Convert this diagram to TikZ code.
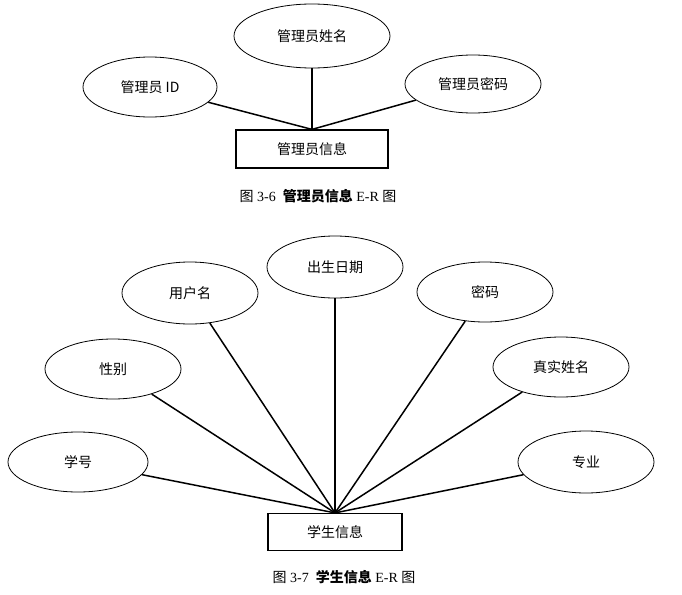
\documentclass[tikz,border=0pt]{standalone}
\usepackage{fontspec}
\setmainfont{Liberation Serif}
\newfontfamily\cjk{Noto Sans CJK SC}
\usetikzlibrary{shapes.geometric}
\begin{document}
\begin{tikzpicture}[x=1pt,y=-1pt,
  attr/.style={ellipse,draw,line width=0.8pt,minimum width=#1,font=\cjk\fontsize{14}{16}\selectfont,inner sep=0pt},
  attr/.default=136pt,
  ent/.style={draw,line width=1.2pt,font=\cjk\fontsize{14}{16}\selectfont,inner sep=0pt},
  conn/.style={line width=1.5pt},
  captext/.style={font=\fontsize{14}{16}\selectfont}]
\useasboundingbox (0,0) rectangle (682,594);
% top
\node[attr=156pt,minimum height=64pt] (tname) at (312,36) {管理员姓名};
\node[attr=134pt,minimum height=60pt] (tid) at (150,87) {管理员 ID};
\node[attr=136pt,minimum height=58pt] (tpw) at (473,84) {管理员密码};
\node[ent,minimum width=152pt,minimum height=38pt] (tbox) at (312,149) {管理员信息};
\draw[conn] (tid) -- (tbox.north);
\draw[conn] (tname) -- (tbox.north);
\draw[conn] (tpw) -- (tbox.north);
\node[captext] (c1) at (318,196) {{\cjk 图} 3-6\ \ {\cjk\bfseries 管理员信息} E-R {\cjk 图}};
% bottom
\node[attr,minimum height=62pt] (birth) at (335,267) {出生日期};
\node[attr,minimum height=62pt] (user) at (190,293) {用户名};
\node[attr,minimum height=60pt] (pw) at (485,292) {密码};
\node[attr,minimum height=60pt] (sex) at (113,369) {性别};
\node[attr,minimum height=60pt] (real) at (561,367) {真实姓名};
\node[attr=140pt,minimum height=60pt] (sno) at (78,462) {学号};
\node[attr,minimum height=62pt] (major) at (586,462) {专业};
\node[ent,minimum width=134pt,minimum height=37pt] (sbox) at (335,532) {学生信息};
\foreach \n in {birth,user,pw,sex,real,sno,major} \draw[conn] (\n) -- (sbox.north);
\node[captext] (c2) at (344,577) {{\cjk 图} 3-7\ \ {\cjk\bfseries 学生信息} E-R {\cjk 图}};
\end{tikzpicture}
\end{document}
